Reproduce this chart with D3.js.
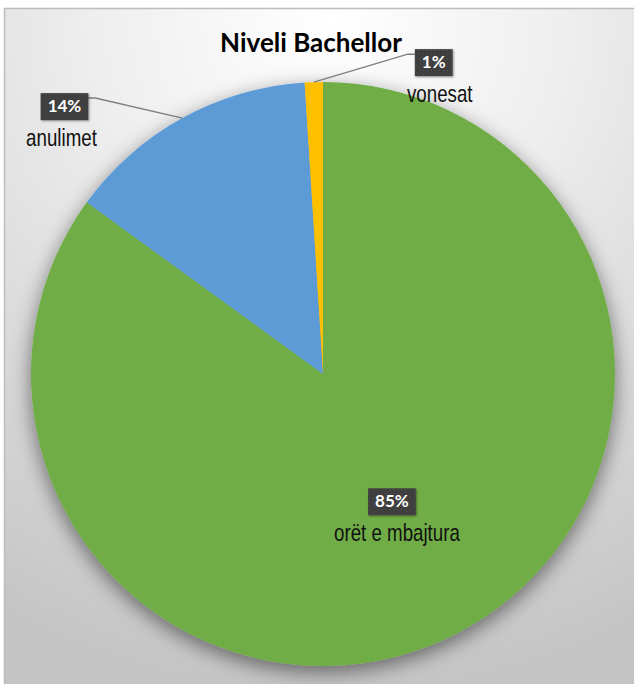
<!DOCTYPE html>
<html>
<head>
<meta charset="utf-8">
<script src="https://d3js.org/d3.v7.min.js"></script>
<style>
  body { margin: 0; background: #fff; }
  svg { display: block; }
</style>
</head>
<body>
<div id="chart"></div>
<script>
var categories = ["orët e mbajtura", "anulimet", "vonesat"];
var values = [85, 14, 1];
var pctLabels = ["85%", "14%", "1%"];
var colors = ["#70ad47", "#5b9bd5", "#ffc000"];
var title = "Niveli Bachellor";

var width = 634, height = 684;
var cx = 323, cy = 374, radius = 292;

// label placement: inside ones sit on a centroid, outside ones hang off the slice edge by a leader
var labelLayout = [
    {inside: true, rad: 0.52, dx: 0, dy: -21, tx: 5},
    {inside: false, dx: -94, dy: -20, elbow: 7, tx: -3},
    {inside: false, dx: 101, dy: -28, elbow: -7, tx: 6}
];

var svg = d3.select("#chart").append("svg")
    .attr("width", width)
    .attr("height", height);

var defs = svg.append("defs");

var grad = defs.append("radialGradient")
    .attr("id", "bg")
    .attr("gradientUnits", "userSpaceOnUse")
    .attr("cx", 330).attr("cy", 20).attr("r", 680);
grad.append("stop").attr("offset", "0%").attr("stop-color", "#ffffff");
grad.append("stop").attr("offset", "35%").attr("stop-color", "#eeeeee");
grad.append("stop").attr("offset", "100%").attr("stop-color", "#c4c4c4");

var shadow = defs.append("filter")
    .attr("id", "pieShadow")
    .attr("x", "-20%").attr("y", "-20%").attr("width", "140%").attr("height", "140%");
shadow.append("feDropShadow")
    .attr("dx", 0).attr("dy", 6)
    .attr("stdDeviation", 10)
    .attr("flood-color", "#000")
    .attr("flood-opacity", 0.5);

var boxShadow = defs.append("filter")
    .attr("id", "boxShadow")
    .attr("x", "-30%").attr("y", "-30%").attr("width", "160%").attr("height", "160%");
boxShadow.append("feDropShadow")
    .attr("dx", 1).attr("dy", 1)
    .attr("stdDeviation", 1)
    .attr("flood-color", "#000")
    .attr("flood-opacity", 0.4);

var dots = defs.append("pattern")
    .attr("id", "dots")
    .attr("patternUnits", "userSpaceOnUse")
    .attr("width", 4).attr("height", 4);
dots.append("rect").attr("width", 4).attr("height", 4).attr("fill", "#3d3d3d");
dots.append("rect").attr("x", 1).attr("y", 1).attr("width", 1).attr("height", 1).attr("fill", "#585858");
dots.append("rect").attr("x", 3).attr("y", 3).attr("width", 1).attr("height", 1).attr("fill", "#4c4c4c");

// chart area
svg.append("rect")
    .attr("x", 4.5).attr("y", 8.5)
    .attr("width", width + 10).attr("height", height + 10)
    .attr("fill", "url(#bg)")
    .attr("stroke", "#bdbdbd")
    .attr("stroke-width", 1.5);

svg.append("text")
    .attr("x", 311)
    .attr("y", 52)
    .attr("text-anchor", "middle")
    .attr("font-family", "Lato, 'Open Sans', sans-serif")
    .attr("font-weight", "bold")
    .attr("font-size", "26px")
    .attr("fill", "#000")
    .text(title);

var data = categories.map(function (c, i) {
    return {name: c, value: values[i], pct: pctLabels[i], color: colors[i], layout: labelLayout[i]};
});

var pie = d3.pie()
    .sort(null)
    .value(function (d) { return d.value; });

var arc = d3.arc()
    .innerRadius(0)
    .outerRadius(radius);

var arcs = pie(data);

var g = svg.append("g")
    .attr("transform", "translate(" + cx + "," + cy + ")");

g.append("g")
    .attr("filter", "url(#pieShadow)")
    .selectAll("path")
    .data(arcs)
    .enter().append("path")
    .attr("d", arc)
    .attr("fill", function (d) { return d.data.color; });

var boxH = 27;

// labels
arcs.forEach(function (d) {
    var lay = d.data.layout;
    var mid = (d.startAngle + d.endAngle) / 2;

    var lab = g.append("g");
    var t = lab.append("text")
        .attr("x", 0)
        .attr("y", 19)
        .attr("text-anchor", "middle")
        .attr("font-family", "Lato, 'Open Sans', sans-serif")
        .attr("font-weight", "bold")
        .attr("font-size", "17px")
        .attr("fill", "#fff")
        .text(d.data.pct);
    var bw = t.node().getBBox().width + 14;
    lab.insert("rect", "text")
        .attr("x", -bw / 2)
        .attr("y", 0)
        .attr("width", bw)
        .attr("height", boxH)
        .attr("fill", "url(#dots)")
        .attr("filter", "url(#boxShadow)");

    lab.append("g")
        .attr("transform", "translate(" + lay.tx + ",53) scale(0.78,1)")
        .append("text")
        .attr("text-anchor", "middle")
        .attr("font-family", "'Liberation Sans', Arial, sans-serif")
        .attr("font-size", "24px")
        .attr("fill", "#111")
        .text(d.data.name);

    var bx, by;
    if (lay.inside) {
        var inner = d3.arc().innerRadius(radius * lay.rad).outerRadius(radius * lay.rad);
        var c = inner.centroid(d);
        bx = c[0] + lay.dx;
        by = c[1] + lay.dy;
    } else {
        var ex = Math.sin(mid) * radius,
            ey = -Math.cos(mid) * radius;
        var px = ex + lay.dx,
            py = ey + lay.dy;
        g.insert("polyline", "g + g")
            .attr("points", [[ex, ey], [px + lay.elbow, py], [px, py]].map(function (p) { return p.join(","); }).join(" "))
            .attr("fill", "none")
            .attr("stroke", "#7f7f7f")
            .attr("stroke-width", 1.5);
        bx = px + (lay.dx < 0 ? -bw / 2 : bw / 2);
        by = py - 5;
    }
    lab.attr("transform", "translate(" + bx + "," + by + ")");
});
</script>
</body>
</html>
